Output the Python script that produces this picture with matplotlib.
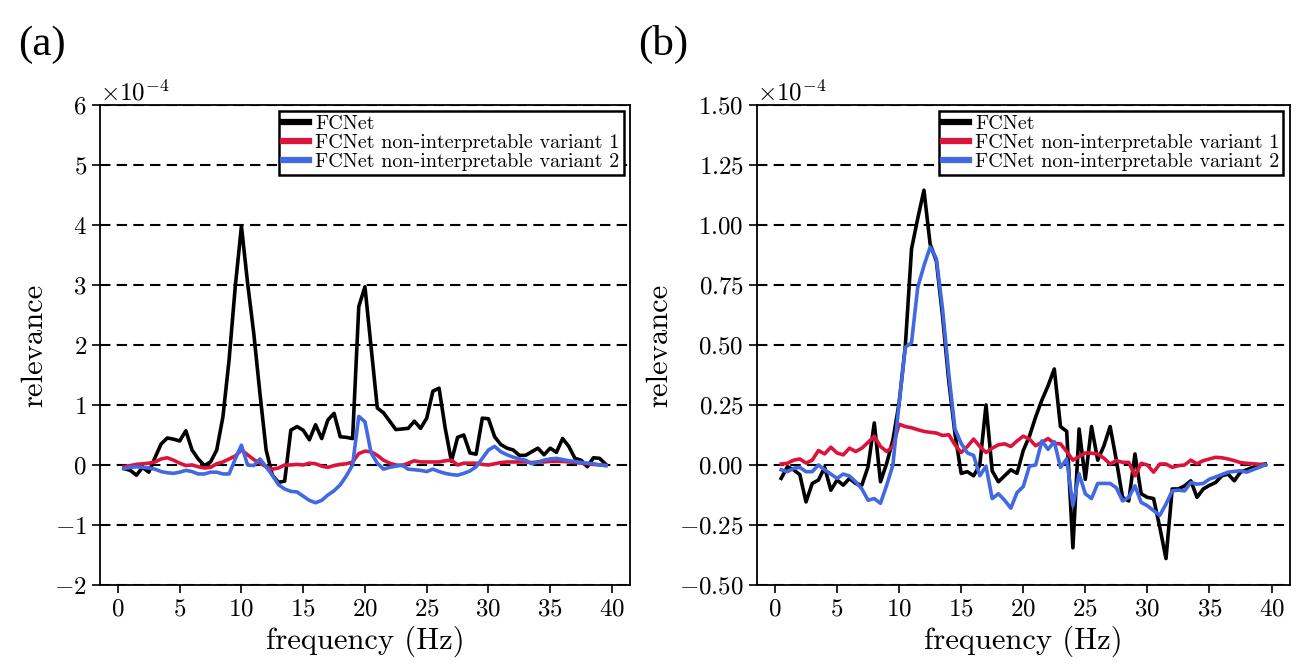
import numpy as np
import matplotlib
matplotlib.use("Agg")
import matplotlib.pyplot as plt

plt.rcParams["font.family"] = "serif"
plt.rcParams["font.serif"] = ["cmr10", "DejaVu Serif"]
plt.rcParams["mathtext.fontset"] = "cm"
plt.rcParams["axes.formatter.use_mathtext"] = True

freq = np.arange(0.5, 40.0, 0.5)

# panel (a), relevance in units of 1e-4
fcnet_a = [-0.06, -0.09, -0.17, -0.04, -0.12, 0.12, 0.35, 0.45, 0.43, 0.40,
           0.57, 0.25, 0.10, -0.01, 0.05, 0.25, 0.80, 1.75, 2.97, 3.98,
           3.03, 2.19, 1.19, 0.25, -0.17, -0.29, -0.27, 0.58, 0.64, 0.58,
           0.42, 0.67, 0.44, 0.75, 0.86, 0.47, 0.46, 0.44, 2.64, 2.97,
           1.96, 0.95, 0.87, 0.73, 0.59, 0.60, 0.61, 0.73, 0.61, 0.78,
           1.23, 1.28, 0.61, 0.06, 0.46, 0.50, 0.20, 0.18, 0.78, 0.77,
           0.47, 0.34, 0.28, 0.25, 0.16, 0.16, 0.22, 0.28, 0.17, 0.28,
           0.21, 0.44, 0.31, 0.11, 0.08, -0.03, 0.12, 0.11, 0.01]
var1_a = [-0.03, -0.01, 0.01, 0.02, 0.03, 0.05, 0.10, 0.12, 0.08, 0.03,
          -0.01, 0.00, -0.03, -0.05, -0.04, 0.02, 0.05, 0.10, 0.15, 0.25,
          0.17, 0.09, 0.03, -0.03, -0.07, -0.05, 0.00, 0.00, 0.01, 0.00,
          0.03, 0.02, -0.02, -0.04, -0.01, 0.01, 0.02, 0.05, 0.19, 0.23,
          0.22, 0.16, 0.08, 0.03, 0.00, -0.01, 0.03, 0.07, 0.05, 0.05,
          0.05, 0.05, 0.07, 0.08, 0.00, 0.03, 0.03, 0.03, 0.01, 0.00,
          0.02, 0.04, 0.05, 0.05, 0.05, 0.05, 0.04, 0.05, 0.05, 0.06,
          0.06, 0.06, 0.05, 0.04, 0.03, 0.02, 0.01, 0.00, -0.01]
var2_a = [-0.06, -0.04, -0.03, -0.04, -0.05, -0.07, -0.11, -0.13, -0.14, -0.12,
          -0.09, -0.11, -0.15, -0.15, -0.12, -0.12, -0.15, -0.15, 0.10, 0.33,
          0.00, -0.01, 0.10, -0.03, -0.17, -0.33, -0.40, -0.44, -0.45, -0.52,
          -0.59, -0.63, -0.59, -0.50, -0.43, -0.33, -0.18, 0.00, 0.81, 0.72,
          0.20, 0.03, -0.07, -0.04, -0.02, 0.00, -0.07, -0.08, -0.09, -0.11,
          -0.07, -0.11, -0.14, -0.16, -0.17, -0.14, -0.10, -0.03, 0.11, 0.25,
          0.31, 0.22, 0.17, 0.13, 0.10, 0.08, 0.02, 0.05, 0.08, 0.10,
          0.11, 0.09, 0.07, 0.06, 0.04, 0.03, 0.02, 0.00, -0.01]

# panel (b), relevance in units of 1e-4
fcnet_b = [-0.056, -0.007, -0.02, -0.04, -0.154, -0.077, -0.063, -0.01, -0.105, -0.063,
           -0.084, -0.056, -0.077, -0.084, -0.007, 0.175, -0.07, 0.007, 0.105, 0.258,
           0.496, 0.90, 1.027, 1.145, 0.92, 0.85, 0.62, 0.35, 0.13, -0.035,
           -0.028, -0.045, 0.0, 0.25, -0.025, -0.07, -0.045, -0.02, -0.035, 0.06,
           0.12, 0.20, 0.27, 0.33, 0.40, 0.16, 0.14, -0.345, 0.15, -0.06,
           0.16, 0.02, 0.08, 0.16, 0.02, -0.135, -0.15, 0.046, -0.12, -0.135,
           -0.14, -0.26, -0.39, -0.10, -0.10, -0.087, -0.066, -0.135, -0.10, -0.085,
           -0.073, -0.045, -0.038, -0.066, -0.03, -0.02, -0.01, 0.0, 0.004]
var1_b = [0.004, 0.007, 0.02, 0.025, 0.008, 0.02, 0.06, 0.046, 0.074, 0.05,
          0.042, 0.07, 0.056, 0.07, 0.094, 0.12, 0.077, 0.056, 0.077, 0.17,
          0.16, 0.155, 0.147, 0.14, 0.136, 0.133, 0.123, 0.126, 0.084, 0.052,
          0.077, 0.108, 0.077, 0.052, 0.07, 0.084, 0.088, 0.077, 0.10, 0.12,
          0.108, 0.08, 0.095, 0.11, 0.09, 0.088, 0.056, 0.02, 0.035, 0.05,
          0.049, 0.046, 0.028, 0.004, 0.018, 0.011, 0.011, -0.045, 0.007, 0.0,
          -0.03, 0.004, 0.004, -0.01, -0.003, 0.0, 0.02, 0.005, 0.018, 0.025,
          0.032, 0.03, 0.025, 0.018, 0.01, 0.007, 0.005, 0.003, 0.0]
var2_b = [-0.02, -0.028, -0.014, -0.01, -0.028, -0.028, 0.0, -0.02, -0.038, -0.056,
          -0.038, -0.046, -0.07, -0.10, -0.147, -0.14, -0.16, -0.084, 0.0, 0.258,
          0.49, 0.51, 0.74, 0.83, 0.908, 0.86, 0.65, 0.38, 0.15, 0.09,
          0.05, 0.04, -0.045, -0.005, -0.14, -0.12, -0.147, -0.18, -0.115, -0.09,
          -0.005, 0.0, 0.10, 0.065, 0.097, -0.01, 0.025, -0.17, -0.037, -0.12,
          -0.14, -0.077, -0.077, -0.077, -0.095, -0.15, -0.135, -0.087, -0.156, -0.17,
          -0.19, -0.21, -0.163, -0.108, -0.105, -0.108, -0.073, -0.08, -0.077, -0.059,
          -0.05, -0.04, -0.03, -0.027, -0.024, -0.03, -0.02, -0.01, 0.0]

labels = ["FCNet", "FCNet non-interpretable variant 1", "FCNet non-interpretable variant 2"]
colors = ["black", "#DC143C", "#4169E1"]


def draw_panel(ax, series, ylim, yticks):
    for values, label, color in zip(series, labels, colors):
        ax.plot(freq, np.array(values) * 1e-4, color=color, linewidth=2.6, label=label)
    ax.set_ylim(*ylim)
    ax.set_yticks(np.array(yticks) * 1e-4)
    ax.set_xticks(np.arange(0, 41, 5))
    ax.ticklabel_format(axis="y", style="sci", scilimits=(-4, -4), useMathText=True)
    ax.yaxis.grid(True, color="black", linestyle=(0, (5, 3)), linewidth=1.5)
    ax.set_axisbelow(True)
    ax.tick_params(labelsize=18, length=6, width=1.2)
    ax.yaxis.get_offset_text().set_fontsize(18)
    for s in ax.spines.values():
        s.set_linewidth(1.3)
    ax.set_xlabel("frequency (Hz)", fontsize=22)
    ax.set_ylabel("relevance", fontsize=22)
    leg = ax.legend(loc="upper right", fontsize=14.5, handlelength=1.3, handletextpad=0.3,
                    labelspacing=0.05, borderpad=0.2, borderaxespad=0.3,
                    fancybox=False, edgecolor="black", framealpha=1)
    leg.get_frame().set_linewidth(1.8)
    for line in leg.get_lines():
        line.set_linewidth(4.5)


fig = plt.figure(figsize=(13.02, 6.67), dpi=100)
ax_a = fig.add_axes([0.0768, 0.123, 0.407, 0.7196])
ax_b = fig.add_axes([0.5814, 0.123, 0.409, 0.7196])

draw_panel(ax_a, [fcnet_a, var1_a, var2_a], (-2e-4, 6e-4), np.arange(-2, 7, 1))
draw_panel(ax_b, [fcnet_b, var1_b, var2_b], (-0.5e-4, 1.5e-4), np.arange(-0.5, 1.51, 0.25))

fig.text(0.014, 0.918, "(a)", fontsize=31, family="Liberation Serif")
fig.text(0.49, 0.918, "(b)", fontsize=31, family="Liberation Serif")

fig.savefig("out.png", dpi=100)
